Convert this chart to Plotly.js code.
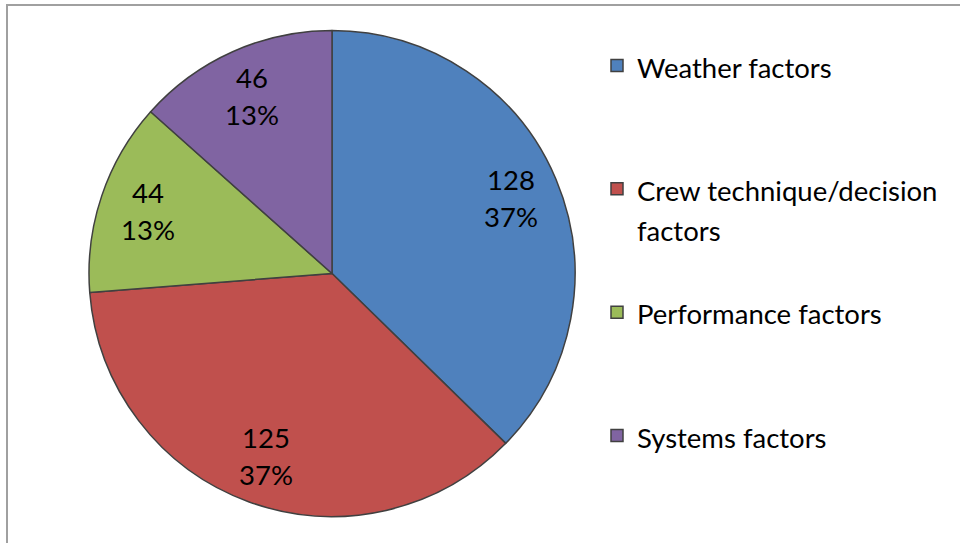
<!DOCTYPE html>
<html><head><meta charset="utf-8">
<script src="https://cdn.plot.ly/plotly-3.0.1.min.js"></script>
<style>html,body{margin:0;padding:0;background:#fff;} #chart{width:960px;height:543px;}</style>
</head><body><div id="chart"></div>
<script>
// ---- data ----
const categories = ["Weather factors", "Crew technique/decision factors", "Performance factors", "Systems factors"];
const legendLines = [["Weather factors"], ["Crew technique/decision", "factors"], ["Performance factors"], ["Systems factors"]];
const counts = [128, 125, 44, 46];
const percentLabels = ["37%", "37%", "13%", "13%"];
const colors = ["#4F81BD", "#C0504D", "#9BBB59", "#8064A2"];

// ---- layout constants ----
const W = 960, H = 543;
const FONT = "Lato, 'Open Sans', sans-serif";
const GLYPH = 27.5;          // visible glyph size
const domX = [89 / W, 575 / W];
const domY = [(543 - 516.5) / H, (543 - 30.5) / H];
const labelRadius = 0.8;

const sized = s => '<span style="font-size:' + GLYPH + 'px">' + s + '</span>';

// padded legend text so every entry occupies the same height
const padLines = 3;
const legendText = legendLines.map(lines => {
  const out = lines.map(sized);
  while (out.length < padLines) out.push(" ");
  return out.join("<br>");
});

// label positions derived from the data (mid-angle of each slice)
const total = counts.reduce((a, b) => a + b, 0);
const cx = (domX[0] + domX[1]) / 2, cy = (domY[0] + domY[1]) / 2;
const Rpx = Math.min((domX[1] - domX[0]) * W, (domY[1] - domY[0]) * H) / 2;
let cum = 0;
const annotations = counts.map((v, i) => {
  const mid = (cum + v / 2) / total * 2 * Math.PI;
  cum += v;
  return {
    xref: "paper", yref: "paper",
    x: cx + labelRadius * Rpx * Math.sin(mid) / W,
    y: cy + labelRadius * Rpx * Math.cos(mid) / H,
    text: sized(String(v)) + "<br>" + sized(percentLabels[i]),
    showarrow: false,
    xanchor: "center", yanchor: "middle",
    font: {family: FONT, size: 28.5, color: "#000"}
  };
});

const trace = {
  type: "pie",
  values: counts,
  labels: legendText,
  customdata: categories,
  sort: false,
  direction: "clockwise",
  rotation: 0,
  textinfo: "none",
  hovertemplate: "%{customdata}: %{value}<extra></extra>",
  marker: {colors: colors, line: {color: "#404040", width: 1.5}},
  domain: {x: domX, y: domY}
};

const layout = {
  width: W, height: H,
  margin: {l: 0, r: 0, t: 0, b: 0},
  paper_bgcolor: "#fff",
  showlegend: true,
  legend: {
    x: 597 / W, xanchor: "left",
    y: 1 - 45.5 / H, yanchor: "top",
    valign: "top",
    font: {family: FONT, size: 30.85, color: "#000"},
    bgcolor: "rgba(0,0,0,0)"
  },
  annotations: annotations,
  shapes: [{
    type: "rect", xref: "paper", yref: "paper",
    x0: 7 / W, x1: 1.1, y0: -0.1, y1: 1 - 5 / H,
    line: {color: "#a0a0a0", width: 2}, fillcolor: "rgba(0,0,0,0)"
  }]
};

Plotly.newPlot("chart", [trace], layout, {displayModeBar: false});
</script>
</body></html>
